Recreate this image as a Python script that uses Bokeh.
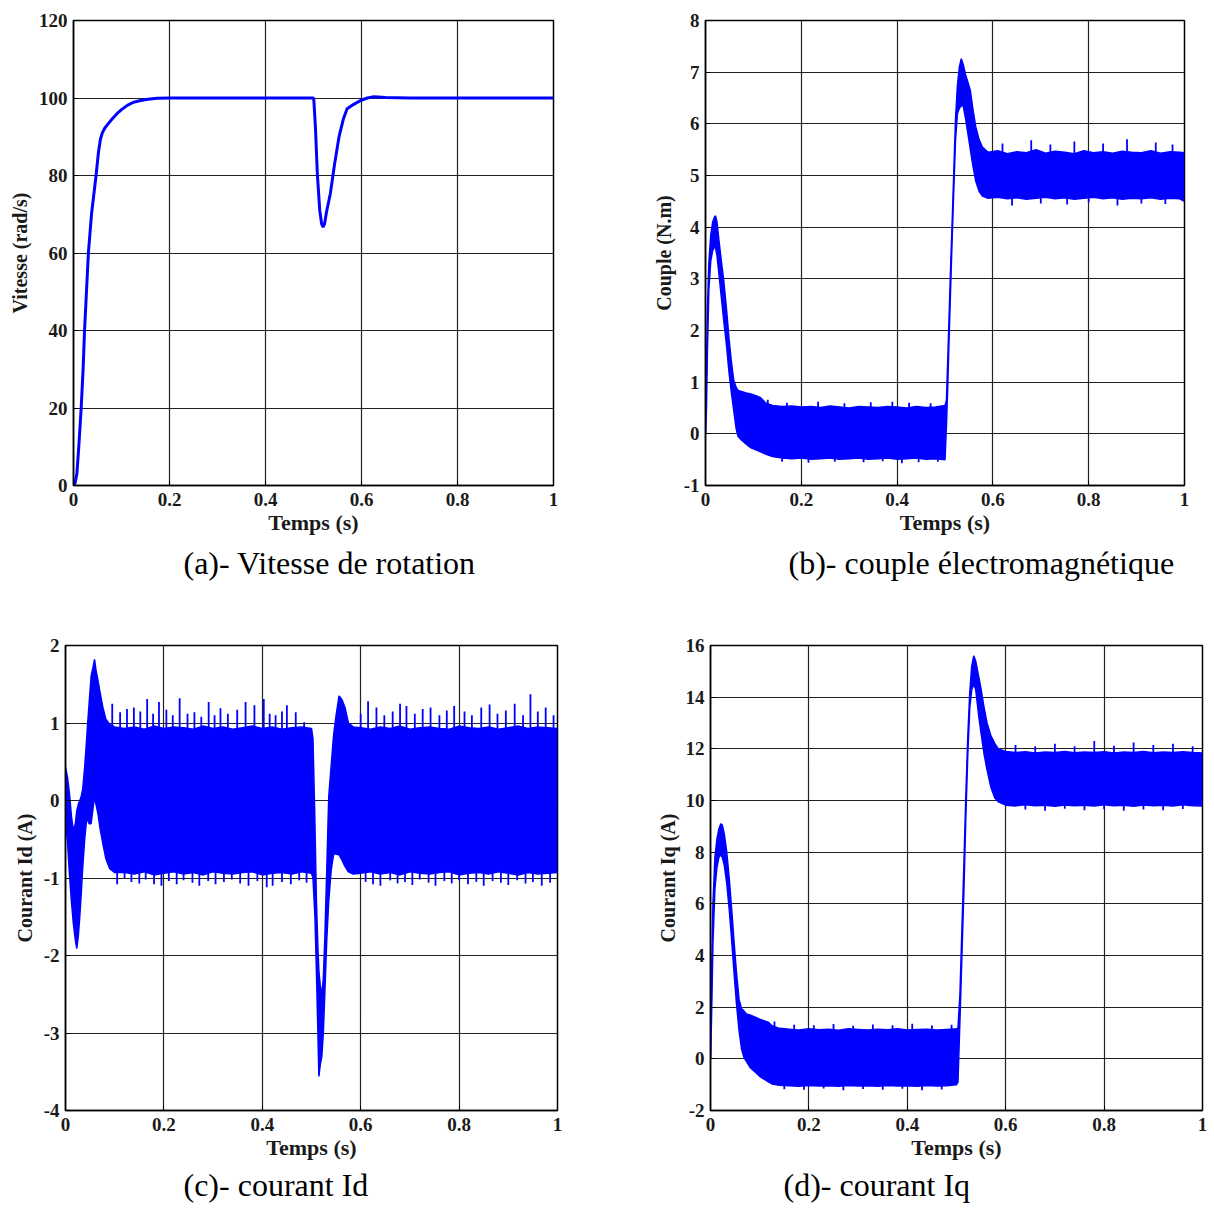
from bokeh.plotting import figure
from bokeh.layouts import column, row
from bokeh.models import Range1d, FixedTicker, NumeralTickFormatter, Title
from bokeh.embed import file_html
from bokeh.resources import INLINE

# ---------------- data ----------------
x_ticks = [0, 0.2, 0.4, 0.6, 0.8, 1]

# (a) speed (rad/s)
t_a = [0, 0.003, 0.007, 0.011, 0.016, 0.02, 0.023, 0.027, 0.031, 0.0375,
       0.047, 0.052, 0.056, 0.06, 0.065, 0.07, 0.08, 0.09, 0.1, 0.112,
       0.125, 0.14, 0.155, 0.174, 0.2, 0.3, 0.4, 0.5, 0.5007, 0.504,
       0.508, 0.513, 0.517, 0.52, 0.523, 0.527, 0.535, 0.544, 0.553, 0.562,
       0.57, 0.583, 0.598, 0.612, 0.626, 0.65, 0.7, 0.8, 0.9, 1.0]
w_a = [0, 0.5, 3, 10, 20, 30, 40, 50, 60, 70,
       80, 86, 89.3, 91.0, 92.2, 93.0, 94.5, 95.9, 97.0, 98.1,
       98.9, 99.35, 99.7, 99.95, 100, 100, 100, 100, 99.5, 92.5,
       80.4, 71, 67.5, 66.7, 67.5, 70.5, 75.3, 83, 89.9, 94.5,
       97.2, 98.3, 99.35, 100, 100.3, 100.1, 100, 100, 100, 100]

# (b) torque (N.m): envelope of the noisy trace
t_b = [0, 0.002, 0.004, 0.007, 0.011, 0.015, 0.019, 0.021, 0.024, 0.028, 0.033, 0.038, 0.044, 0.049, 0.054, 0.059, 0.064, 0.068,
       0.075, 0.085, 0.095, 0.105, 0.115, 0.125, 0.14, 0.16, 0.18, 0.2, 0.22, 0.24, 0.26, 0.28, 0.3, 0.32, 0.34, 0.36, 0.38, 0.4, 0.42, 0.44, 0.46, 0.48, 0.5,
       0.503, 0.506, 0.509, 0.512, 0.515, 0.519, 0.522, 0.526, 0.530, 0.534, 0.538, 0.543, 0.548, 0.553, 0.558, 0.564, 0.571, 0.578,
       0.59, 0.61, 0.63, 0.65, 0.67, 0.69, 0.71, 0.73, 0.75, 0.77, 0.79, 0.81, 0.83, 0.85, 0.87, 0.89, 0.91, 0.93, 0.95, 0.97, 0.99, 1.0]
hi_b = [0, 1.2, 2.4, 3.3, 3.85, 4.1, 4.2, 4.22, 4.1, 3.75, 3.35, 2.97, 2.4, 1.85, 1.4, 1.03, 0.9, 0.84,
        0.82, 0.79, 0.77, 0.74, 0.7, 0.6, 0.55, 0.53, 0.54, 0.52, 0.53, 0.51, 0.54, 0.52, 0.5, 0.53, 0.52, 0.51, 0.53, 0.52, 0.5, 0.53, 0.51, 0.52, 0.55,
        0.65, 1.5, 2.4, 3.3, 4.1, 5.25, 6.1, 6.75, 7.1, 7.26, 7.15, 6.95, 6.8, 6.64, 6.3, 5.95, 5.7, 5.55,
        5.45, 5.48, 5.42, 5.46, 5.44, 5.5, 5.43, 5.47, 5.45, 5.42, 5.48, 5.44, 5.46, 5.43, 5.47, 5.45, 5.44, 5.48, 5.43, 5.46, 5.45, 5.44]
lo_b = [0, 0.5, 1.6, 2.8, 3.35, 3.55, 3.62, 3.6, 3.45, 3.1, 2.65, 2.2, 1.7, 1.2, 0.8, 0.45, 0.1, -0.05,
        -0.12, -0.2, -0.27, -0.31, -0.35, -0.39, -0.44, -0.47, -0.48, -0.47, -0.49, -0.48, -0.47, -0.49, -0.48, -0.47, -0.49, -0.48, -0.47, -0.49, -0.48, -0.47, -0.49, -0.48, -0.5,
        0.15, 1.0, 2.0, 2.9, 3.8, 4.9, 5.7, 6.2, 6.3, 6.35, 6.35, 6.1, 5.8, 5.5, 5.2, 4.9, 4.7, 4.6,
        4.56, 4.58, 4.55, 4.57, 4.54, 4.56, 4.58, 4.55, 4.57, 4.54, 4.56, 4.58, 4.55, 4.57, 4.54, 4.56, 4.55, 4.57, 4.54, 4.56, 4.55, 4.5]
spk_b_up_t = [0.13, 0.17, 0.235, 0.29, 0.345, 0.39, 0.425, 0.47, 0.62, 0.68, 0.72, 0.77, 0.83, 0.88, 0.94, 0.975]
spk_b_up_v = [0.66, 0.6, 0.62, 0.59, 0.61, 0.62, 0.6, 0.59, 5.62, 5.68, 5.6, 5.66, 5.62, 5.7, 5.64, 5.6]
spk_b_dn_t = [0.16, 0.215, 0.27, 0.33, 0.37, 0.41, 0.445, 0.485, 0.64, 0.7, 0.755, 0.8, 0.86, 0.91, 0.96]
spk_b_dn_v = [-0.54, -0.56, -0.54, -0.55, -0.53, -0.57, -0.55, -0.54, 4.42, 4.46, 4.44, 4.48, 4.42, 4.46, 4.45]

# (c) current Id (A)
t_c = [0, 0.004, 0.008, 0.012, 0.016, 0.02, 0.023, 0.026, 0.029, 0.032, 0.035, 0.039, 0.042, 0.045, 0.048, 0.052, 0.056, 0.059, 0.062, 0.066, 0.07, 0.076, 0.082, 0.09, 0.1,
       0.12, 0.14, 0.16, 0.18, 0.2, 0.22, 0.24, 0.26, 0.28, 0.3, 0.32, 0.34, 0.36, 0.38, 0.4, 0.42, 0.44, 0.46, 0.48, 0.5,
       0.503, 0.507, 0.510, 0.513, 0.515, 0.518, 0.521, 0.524, 0.527, 0.531, 0.535, 0.54, 0.545, 0.55, 0.556, 0.562, 0.568, 0.575, 0.585,
       0.6, 0.62, 0.64, 0.66, 0.68, 0.7, 0.72, 0.74, 0.76, 0.78, 0.8, 0.82, 0.84, 0.86, 0.88, 0.9, 0.92, 0.94, 0.96, 0.98, 1.0]
hi_c = [0.43, 0.3, 0.09, -0.2, -0.39, -0.3, -0.13, -0.05, 0.0, 0.05, 0.15, 0.43, 0.7, 0.99, 1.25, 1.6, 1.72, 1.82, 1.68, 1.55, 1.4, 1.2, 1.05, 0.98, 0.95,
        0.93, 0.95, 0.92, 0.96, 0.93, 0.95, 0.94, 0.92, 0.96, 0.93, 0.95, 0.92, 0.94, 0.96, 0.93, 0.95, 0.92, 0.94, 0.95, 0.93,
        0.8, -0.3, -1.3, -1.9, -2.2, -2.4, -2.5, -2.3, -1.8, -0.9, 0.04, 0.45, 0.85, 1.1, 1.35, 1.3, 1.2, 1.0, 0.95,
        0.94, 0.92, 0.95, 0.93, 0.96, 0.92, 0.94, 0.95, 0.93, 0.92, 0.96, 0.94, 0.93, 0.95, 0.92, 0.94, 0.96, 0.93, 0.95, 0.94, 0.93]
lo_c = [-0.3, -0.52, -0.95, -1.3, -1.59, -1.8, -1.91, -1.75, -1.5, -1.2, -0.86, -0.5, -0.3, -0.22, -0.3, -0.3, -0.1, 0.05, -0.05, -0.17, -0.35, -0.56, -0.75, -0.88, -0.93,
        -0.93, -0.95, -0.92, -0.96, -0.94, -0.92, -0.95, -0.93, -0.96, -0.92, -0.94, -0.95, -0.93, -0.92, -0.96, -0.94, -0.93, -0.95, -0.92, -0.94,
        -1.0, -1.5, -2.2, -3.0, -3.56, -3.4, -3.3, -3.0, -2.5, -1.8, -1.3, -0.9, -0.69, -0.69, -0.7, -0.77, -0.85, -0.92, -0.95,
        -0.94, -0.92, -0.95, -0.93, -0.96, -0.92, -0.94, -0.95, -0.93, -0.92, -0.96, -0.94, -0.93, -0.95, -0.92, -0.94, -0.96, -0.93, -0.95, -0.94, -0.93]
spk_c_up_t = [0.095, 0.111, 0.125, 0.139, 0.152, 0.166, 0.178, 0.19, 0.205, 0.218,
              0.232, 0.248, 0.262, 0.276, 0.291, 0.303, 0.315, 0.33, 0.349, 0.366,
              0.384, 0.403, 0.415, 0.427, 0.44, 0.45, 0.468, 0.485, 0.6, 0.615,
              0.632, 0.648, 0.665, 0.68, 0.693, 0.71, 0.726, 0.742, 0.76, 0.775,
              0.79, 0.811, 0.826, 0.845, 0.862, 0.878, 0.895, 0.913, 0.93, 0.945,
              0.96, 0.976, 0.992]
spk_c_up_v = [1.25, 1.14, 1.18, 1.2, 1.15, 1.31, 1.12, 1.27, 1.17, 1.1,
              1.32, 1.12, 1.14, 1.08, 1.27, 1.1, 1.19, 1.12, 1.17, 1.27,
              1.23, 1.31, 1.12, 1.1, 1.15, 1.23, 1.14, 1.01, 1.12, 1.28,
              1.2, 1.1, 1.15, 1.25, 1.22, 1.12, 1.18, 1.2, 1.1, 1.16,
              1.22, 1.15, 1.1, 1.2, 1.24, 1.12, 1.16, 1.25, 1.1, 1.37,
              1.15, 1.2, 1.1]
spk_c_dn_t = [0.105, 0.12, 0.134, 0.15, 0.163, 0.18, 0.195, 0.21, 0.226, 0.24,
              0.258, 0.272, 0.29, 0.305, 0.322, 0.338, 0.355, 0.372, 0.39, 0.409,
              0.421, 0.44, 0.458, 0.475, 0.49, 0.61, 0.625, 0.64, 0.66, 0.675,
              0.69, 0.705, 0.72, 0.738, 0.752, 0.77, 0.785, 0.8, 0.818, 0.835,
              0.85, 0.868, 0.885, 0.9, 0.918, 0.935, 0.95, 0.968, 0.985]
spk_c_dn_v = [-1.08, -1.0, -1.05, -1.07, -1.02, -1.08, -1.1, -1.04, -1.08, -1.03,
              -1.06, -1.1, -1.04, -1.08, -1.05, -1.02, -1.07, -1.1, -1.04, -1.12,
              -1.1, -1.05, -1.08, -1.03, -1.06, -1.05, -1.08, -1.1, -1.03, -1.07,
              -1.05, -1.09, -1.02, -1.06, -1.1, -1.04, -1.07, -1.03, -1.08, -1.05,
              -1.1, -1.04, -1.06, -1.09, -1.03, -1.07, -1.05, -1.1, -1.06]

# (d) current Iq (A)
t_d = [0, 0.002, 0.005, 0.009, 0.013, 0.017, 0.021, 0.024, 0.028, 0.033, 0.038, 0.043, 0.048, 0.053, 0.058, 0.063, 0.068, 0.073,
       0.08, 0.09, 0.102, 0.117, 0.125, 0.14, 0.16, 0.18, 0.2, 0.22, 0.24, 0.26, 0.28, 0.3, 0.32, 0.34, 0.36, 0.38, 0.4, 0.42, 0.44, 0.46, 0.48, 0.5,
       0.503, 0.507, 0.511, 0.515, 0.519, 0.523, 0.527, 0.531, 0.535, 0.539, 0.545, 0.55, 0.556, 0.562, 0.57, 0.578, 0.585,
       0.6, 0.62, 0.64, 0.66, 0.68, 0.7, 0.72, 0.74, 0.76, 0.78, 0.8, 0.82, 0.84, 0.86, 0.88, 0.9, 0.92, 0.94, 0.96, 0.98, 1.0]
hi_d = [0, 3.0, 6.0, 7.8, 8.5, 8.9, 9.1, 9.05, 8.7, 8.0, 7.0, 5.8, 4.5, 3.3, 2.3, 1.95, 1.85, 1.74,
        1.7, 1.62, 1.52, 1.42, 1.28, 1.18, 1.15, 1.12, 1.16, 1.13, 1.15, 1.11, 1.16, 1.14, 1.12, 1.15, 1.13, 1.16, 1.12, 1.14, 1.15, 1.12, 1.14, 1.16,
        1.2, 2.5, 5.0, 7.5, 10.2, 12.5, 14.2, 15.2, 15.6, 15.4, 14.8, 14.3, 13.6, 13.0, 12.5, 12.2, 12.0,
        11.9, 11.86, 11.89, 11.84, 11.88, 11.86, 11.9, 11.85, 11.88, 11.86, 11.89, 11.84, 11.88, 11.86, 11.9, 11.85, 11.88, 11.86, 11.89, 11.86, 11.84]
lo_d = [0, 1.5, 4.5, 6.6, 7.4, 7.8, 7.9, 7.8, 7.5, 6.8, 5.8, 4.6, 3.3, 2.1, 1.1, 0.4, 0.05, -0.1,
        -0.32, -0.5, -0.71, -0.88, -0.97, -1.02, -1.04, -1.06, -1.03, -1.05, -1.04, -1.06, -1.03, -1.05, -1.04, -1.06, -1.03, -1.05, -1.04, -1.06, -1.03, -1.05, -1.04, -1.0,
        -0.9, 1.5, 4.0, 6.5, 9.4, 11.8, 13.6, 14.3, 14.5, 14.3, 13.3, 12.6, 11.8, 11.2, 10.5, 10.1, 9.95,
        9.82, 9.79, 9.84, 9.8, 9.82, 9.78, 9.83, 9.8, 9.82, 9.79, 9.84, 9.8, 9.82, 9.78, 9.83, 9.8, 9.82, 9.79, 9.84, 9.8, 9.79]
spk_d_up_t = [0.13, 0.17, 0.21, 0.25, 0.29, 0.33, 0.37, 0.41, 0.45, 0.49, 0.62, 0.66, 0.7, 0.74, 0.78, 0.82, 0.86, 0.9, 0.94, 0.98]
spk_d_up_v = [1.45, 1.32, 1.3, 1.35, 1.28, 1.33, 1.3, 1.36, 1.29, 1.32, 12.15, 12.1, 12.2, 12.1, 12.3, 12.12, 12.25, 12.15, 12.2, 12.1]
spk_d_dn_t = [0.15, 0.19, 0.23, 0.27, 0.31, 0.35, 0.39, 0.43, 0.47, 0.64, 0.68, 0.72, 0.76, 0.8, 0.84, 0.88, 0.92, 0.96]
spk_d_dn_v = [-1.18, -1.2, -1.15, -1.22, -1.17, -1.2, -1.16, -1.22, -1.19, 9.65, 9.6, 9.68, 9.62, 9.66, 9.6, 9.65, 9.62, 9.67]

# ---------------- styling ----------------
BLUE = "#0000FF"
SERIF = "Liberation Serif"
INK = "#1a1a1a"


def make_fig(w, h, left, right, top, bottom, ymin, ymax, yticks, ylabel,
             ylab_standoff, caption, cap_offset, cap_standoff):
    p = figure(width=w, height=h, x_range=Range1d(0, 1), y_range=Range1d(ymin, ymax),
               output_backend="svg", toolbar_location=None,
               min_border_left=left, min_border_right=right,
               min_border_top=top, min_border_bottom=bottom)
    p.background_fill_color = "white"
    p.border_fill_color = "white"
    p.outline_line_color = "black"
    p.outline_line_width = 1.5
    p.outline_line_alpha = 1.0
    p.xaxis.ticker = FixedTicker(ticks=x_ticks)
    p.yaxis.ticker = FixedTicker(ticks=yticks)
    p.xaxis.formatter = NumeralTickFormatter(format="0.[0]")
    p.yaxis.formatter = NumeralTickFormatter(format="0")
    for ax in (p.xaxis[0], p.yaxis[0]):
        ax.axis_line_color = "black"
        ax.axis_line_width = 1.5
        ax.major_tick_in = 5
        ax.major_tick_out = 0
        ax.major_tick_line_color = "black"
        ax.minor_tick_line_color = None
        ax.major_label_text_font = SERIF
        ax.major_label_text_font_style = "bold"
        ax.major_label_text_font_size = "19px"
        ax.major_label_text_color = INK
        ax.axis_label_text_font = SERIF
        ax.axis_label_text_font_style = "bold"
        ax.axis_label_text_color = INK
    p.xaxis.axis_label_text_font_size = "22px"
    p.yaxis.axis_label_text_font_size = "20px"
    p.xaxis.axis_label = "Temps (s)"
    p.xaxis.major_label_standoff = 7
    p.xaxis.axis_label_standoff = 1
    p.yaxis.axis_label = ylabel
    p.yaxis.major_label_standoff = 6
    p.yaxis.axis_label_standoff = ylab_standoff
    p.grid.grid_line_color = "#222222"
    p.grid.grid_line_width = 1.2
    cap = Title(text=caption, align="left", offset=cap_offset, standoff=cap_standoff,
                text_font=SERIF, text_font_size="32px", text_font_style="normal",
                text_color="black")
    p.add_layout(cap, "below")
    return p


def noisy(p, t, lo, hi, up_t, up_v, dn_t, dn_v, base_before, base_after):
    p.varea(x=t, y1=lo, y2=hi, fill_color=BLUE, fill_alpha=1.0)
    p.line(t, hi, line_color=BLUE, line_width=1.5)
    p.line(t, lo, line_color=BLUE, line_width=1.5)
    ub = [base_before if s < 0.5 else base_after for s in up_t]
    db = [base_before if s < 0.5 else base_after for s in dn_t]
    p.segment(x0=up_t, y0=ub, x1=up_t, y1=up_v, line_color=BLUE, line_width=1.8)
    p.segment(x0=dn_t, y0=db, x1=dn_t, y1=dn_v, line_color=BLUE, line_width=1.8)


pa = make_fig(628, 618, 73, 75, 20, 133, 0, 120, [0, 20, 40, 60, 80, 100, 120],
              "Vitesse (rad/s)", 5, "(a)- Vitesse de rotation", 110, 10)
pa.line(t_a, w_a, line_color=BLUE, line_width=3)

pb = make_fig(584, 618, 77, 28, 20, 133, -1, 8, [-1, 0, 1, 2, 3, 4, 5, 6, 7, 8],
              "Couple (N.m)", 6, "(b)- couple électromagnétique", 83, 10)
noisy(pb, t_b, lo_b, hi_b, spk_b_up_t, spk_b_up_v, spk_b_dn_t, spk_b_dn_v, 0.0, 5.0)

pc = make_fig(628, 589, 65, 71, 27, 97, -4, 2, [-4, -3, -2, -1, 0, 1, 2],
              "Courant Id (A)", 5, "(c)- courant Id", 118, 4)
noisy(pc, t_c, lo_c, hi_c, spk_c_up_t, spk_c_up_v, spk_c_dn_t, spk_c_dn_v, 0.0, 0.0)

pd_ = make_fig(584, 589, 82, 10, 27, 97, -2, 16, [-2, 0, 2, 4, 6, 8, 10, 12, 14, 16],
               "Courant Iq (A)", 4, "(d)- courant Iq", 73, 4)
noisy(pd_, t_d, lo_d, hi_d, spk_d_up_t, spk_d_up_v, spk_d_dn_t, spk_d_dn_v, 0.0, 11.0)

layout = column(row(pa, pb), row(pc, pd_))
open("out.html", "w").write(file_html(layout, INLINE))
